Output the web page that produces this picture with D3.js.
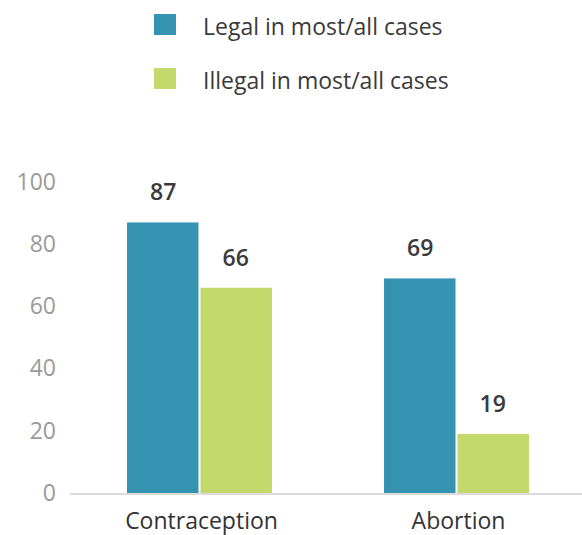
<!DOCTYPE html>
<html><head><meta charset="utf-8">
<script src="https://cdn.jsdelivr.net/npm/d3@7"></script>
<style>
body{margin:0;background:#fff;}
svg{display:block;font-family:"Open Sans",sans-serif;}
</style></head>
<body><svg id="c" width="582" height="535"></svg>
<script>
const categories = ["Contraception", "Abortion"];
const seriesNames = ["Legal in most/all cases", "Illegal in most/all cases"];
const legalValues = [87, 69];
const illegalValues = [66, 19];
const yTicks = [0, 20, 40, 60, 80, 100];
const colors = ["#3592b0", "#c4d96c"];

const svg = d3.select("#c");
const x = d3.scaleBand().domain(categories).range([71, 585]).paddingInner(0.436).paddingOuter(0.218);
const xs = d3.scaleBand().domain(seriesNames).range([0, x.bandwidth()]).padding(0);
const y = d3.scaleLinear().domain([0, 100]).range([493, 182]);

// y axis
const yAxis = d3.axisLeft(y).tickValues(yTicks).tickSize(0).tickPadding(0);
const ga = svg.append("g").attr("transform", "translate(56,0)").call(yAxis);
ga.select(".domain").remove();
ga.selectAll("text").attr("font-size", 23).attr("fill", "#9a9a9a").attr("font-family", "Open Sans").attr("font-weight", 400);

// baseline
svg.append("line").attr("x1", 70).attr("x2", 582).attr("y1", y(0) + 1).attr("y2", y(0) + 1)
  .attr("stroke", "#dcdcdc").attr("stroke-width", 2);

const data = categories.map((c, i) => ({cat: c, vals: [legalValues[i], illegalValues[i]]}));
const groups = svg.append("g").selectAll("g").data(data).join("g")
  .attr("transform", d => `translate(${x(d.cat)},0)`);
groups.selectAll("rect").data(d => d.vals.map((v, j) => ({s: seriesNames[j], v, j}))).join("rect")
  .attr("x", d => xs(d.s) + (d.j === 1 ? 1 : 0))
  .attr("width", d => xs.bandwidth() - 1)
  .attr("y", d => y(d.v))
  .attr("height", d => y(0) - y(d.v))
  .attr("fill", d => colors[d.j]);
groups.selectAll("text.val").data(d => d.vals.map((v, j) => ({s: seriesNames[j], v, j}))).join("text")
  .attr("class", "val")
  .attr("x", d => xs(d.s) + xs.bandwidth() / 2)
  .attr("y", d => y(d.v) - 22)
  .attr("text-anchor", "middle")
  .attr("font-size", 23).attr("font-weight", 600).attr("fill", "#3a3a3a")
  .text(d => d.v);

// x labels
const xAxis = d3.axisBottom(x).tickSize(0).tickPadding(0);
const gx = svg.append("g").attr("transform", "translate(2,529)").call(xAxis);
gx.select(".domain").remove();
gx.selectAll("text").attr("font-size", 23).attr("fill", "#333").attr("font-family", "Open Sans").attr("dy", 0).attr("y", 0);

// legend
const lg = svg.append("g").selectAll("g").data(seriesNames).join("g")
  .attr("transform", (d, i) => `translate(154,${14 + i * 54})`);
lg.append("rect").attr("width", 22).attr("height", 21).attr("fill", (d, i) => colors[i]);
lg.append("text").attr("x", 49).attr("y", 21)
  .attr("font-size", 23).attr("fill", "#3a3a3a").text(d => d);
</script></body></html>
